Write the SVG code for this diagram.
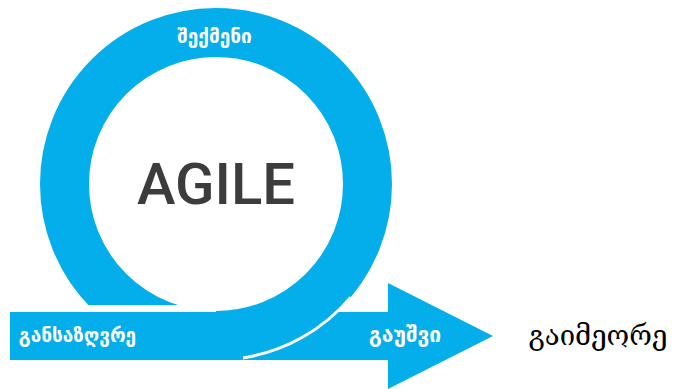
<svg xmlns="http://www.w3.org/2000/svg" width="686" height="389" viewBox="0 0 686 389">
  <defs>
    <style>
      .blue { fill: #03aeeb; }
      .lbl { fill: #ffffff; font-family: "DejaVu Sans", "Noto Sans", sans-serif; font-size: 19px; font-weight: bold; }
      .agile { fill: #3c3c3c; font-family: Roboto, "Liberation Sans", sans-serif; font-size: 58px; font-weight: 500; }
      .outer { fill: #000000; font-family: "DejaVu Serif", "DejaVu Sans", serif; font-size: 27.5px; }
    </style>
  </defs>
  <rect x="0" y="0" width="686" height="389" fill="#ffffff"/>
  <g id="loop">
    <circle cx="216" cy="184" r="151.5" fill="none" stroke="#03aeeb" stroke-width="49"/>
    <rect x="0" y="305" width="216" height="7" fill="#ffffff"/>
  </g>
  <g id="arrow">
    <rect class="blue" x="10" y="312" width="380" height="48"/>
    <polygon class="blue" points="388,283 493,336 388,389"/>
  </g>
  <g id="connectors">
    <path d="M 350.8 297.1 A 176 176 0 0 1 243 357.9" fill="none" stroke="#ffffff" stroke-width="3"/>
  </g>
  <g id="node-agile">
    <text class="agile" x="216" y="204" text-anchor="middle">AGILE</text>
  </g>
  <g id="node-create">
    <text class="lbl" x="214.5" y="43" text-anchor="middle">შექმენი</text>
  </g>
  <g id="node-define">
    <text class="lbl" x="77.5" y="342" text-anchor="middle">განსაზღვრე</text>
  </g>
  <g id="node-release">
    <text class="lbl" x="405" y="342" text-anchor="middle" style="font-size:21px">გაუშვი</text>
  </g>
  <g id="node-repeat">
    <text class="outer" x="598" y="345" text-anchor="middle">გაიმეორე</text>
  </g>
</svg>
